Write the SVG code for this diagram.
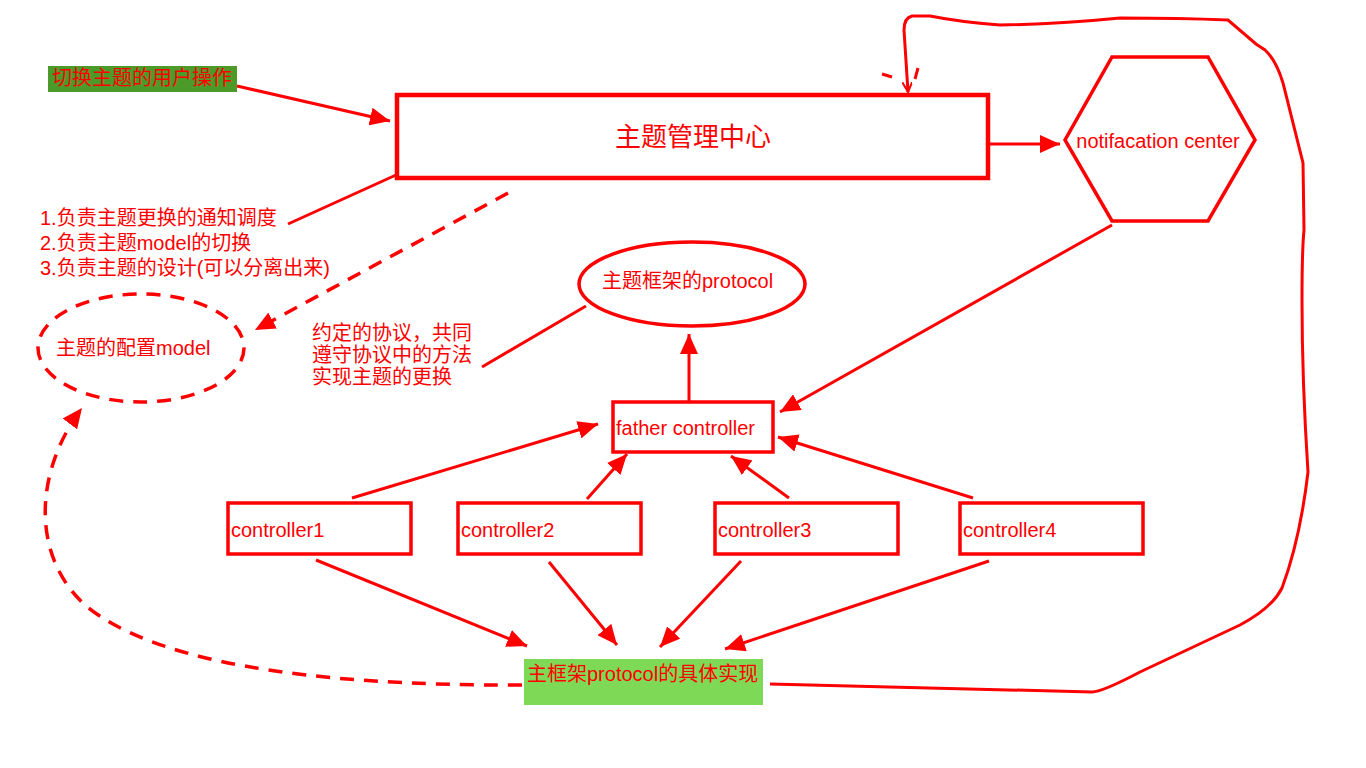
<svg xmlns="http://www.w3.org/2000/svg" width="1366" height="768" viewBox="0 0 1366 768">
<defs>
<marker id="ah" markerUnits="userSpaceOnUse" markerWidth="22" markerHeight="18" refX="20" refY="9" orient="auto">
<path d="M0,0 L20,9 L0,18 Z" fill="#ff0000"/>
</marker>
<marker id="ahs" markerUnits="userSpaceOnUse" markerWidth="12" markerHeight="10" refX="10" refY="5" orient="auto">
<path d="M0,0 L10,5 L0,10" fill="none" stroke="#ff0000" stroke-width="2"/>
</marker>
<style>
.t{font-family:"Liberation Sans","Noto Sans CJK SC",sans-serif;font-size:20px;fill:#ff0000}
.s{stroke:#ff0000;stroke-width:3;fill:none}
.d{stroke:#ff0000;stroke-width:3.5;fill:none;stroke-dasharray:14 10}
.box{stroke:#ff0000;stroke-width:3.5;fill:#ffffff}
</style>
</defs>
<rect width="1366" height="768" fill="#ffffff"/>

<g id="connectors">
<line class="s" x1="237" y1="86" x2="390" y2="121" marker-end="url(#ah)"/>
<line class="s" x1="990" y1="144" x2="1060" y2="144" marker-end="url(#ah)"/>
<line class="s" x1="396" y1="175" x2="288" y2="224"/>
<line class="d" x1="508" y1="193" x2="255" y2="330" marker-end="url(#ah)"/>
<line class="s" x1="482" y1="367" x2="586" y2="306"/>
<line class="s" x1="689" y1="401" x2="689" y2="334" marker-end="url(#ah)"/>
<line class="s" x1="1112" y1="225" x2="780" y2="412" marker-end="url(#ah)"/>
<line class="s" x1="352" y1="498" x2="598" y2="424" marker-end="url(#ah)"/>
<line class="s" x1="587" y1="499" x2="627" y2="454" marker-end="url(#ah)"/>
<line class="s" x1="789" y1="498" x2="731" y2="456" marker-end="url(#ah)"/>
<line class="s" x1="973" y1="498" x2="778" y2="437" marker-end="url(#ah)"/>
<line class="s" x1="316" y1="560" x2="527" y2="646" marker-end="url(#ah)"/>
<line class="s" x1="549" y1="562" x2="617" y2="645" marker-end="url(#ah)"/>
<line class="s" x1="741" y1="561" x2="660" y2="647" marker-end="url(#ah)"/>
<line class="s" x1="989" y1="561" x2="725" y2="649" marker-end="url(#ah)"/>
<path class="d" d="M522,685 C300,686 150,660 85,605 C30,555 35,470 82,408" marker-end="url(#ah)"/>
<path class="s" d="M770,684 L1092,692 Q1102,692 1140,672 L1240,625 Q1272,608 1282,588 Q1300,540 1308,472 Q1302,380 1302,300 Q1302,250 1304,230 L1303,163 L1283,83 Q1276,60 1265,50 L1256,44 L1228,20 Q1180,18 1120,18 Q1060,24 1000,25 Q960,22 930,16 L912,16 Q904,18 904,30 L908,92" marker-end="url(#ahs)"/>
<line class="s" x1="882" y1="74" x2="892" y2="77"/>
<line class="s" x1="918" y1="68" x2="915" y2="79"/>
</g>

<g id="user-action">
<rect x="48" y="66" width="189" height="26" fill="#4c9a2a"/>
<text class="t" x="52" y="85">切换主题的用户操作</text>
</g>

<g id="theme-center">
<rect x="397" y="95" width="591" height="83" fill="#ffffff" stroke="#ff0000" stroke-width="4.5"/>
<text class="t" x="693" y="146" text-anchor="middle" style="font-size:26px">主题管理中心</text>
</g>

<g id="notification-center">
<polygon class="box" points="1112,57 1208,57 1255,140 1208,221 1112,221 1065,140"/>
<text class="t" x="1158" y="148" text-anchor="middle">notifacation center</text>
</g>

<g id="center-notes">
<text class="t" x="40" y="225">1.负责主题更换的通知调度</text>
<text class="t" x="40" y="250">2.负责主题model的切换</text>
<text class="t" x="40" y="275">3.负责主题的设计(可以分离出来)</text>
</g>

<g id="config-model">
<ellipse class="d" cx="141" cy="348" rx="103" ry="54" fill="#ffffff"/>
<text class="t" x="56" y="355">主题的配置model</text>
</g>

<g id="protocol">
<ellipse class="box" cx="692" cy="284" rx="113" ry="42"/>
<text class="t" x="602" y="288">主题框架的protocol</text>
</g>

<g id="protocol-note">
<text class="t" x="312" y="340">约定的协议，共同</text>
<text class="t" x="312" y="362">遵守协议中的方法</text>
<text class="t" x="312" y="384">实现主题的更换</text>
</g>

<g id="father-controller">
<rect class="box" x="613" y="402" width="160" height="50"/>
<text class="t" x="616" y="435">father controller</text>
</g>

<g id="controller1">
<rect class="box" x="228" y="503" width="183" height="51"/>
<text class="t" x="231" y="537">controller1</text>
</g>
<g id="controller2">
<rect class="box" x="458" y="503" width="183" height="51"/>
<text class="t" x="461" y="537">controller2</text>
</g>
<g id="controller3">
<rect class="box" x="715" y="503" width="183" height="51"/>
<text class="t" x="718" y="537">controller3</text>
</g>
<g id="controller4">
<rect class="box" x="960" y="503" width="183" height="51"/>
<text class="t" x="963" y="537">controller4</text>
</g>

<g id="implementation">
<rect x="524" y="659" width="239" height="46" fill="#7ed957"/>
<text class="t" x="527" y="681">主框架protocol的具体实现</text>
</g>
</svg>
